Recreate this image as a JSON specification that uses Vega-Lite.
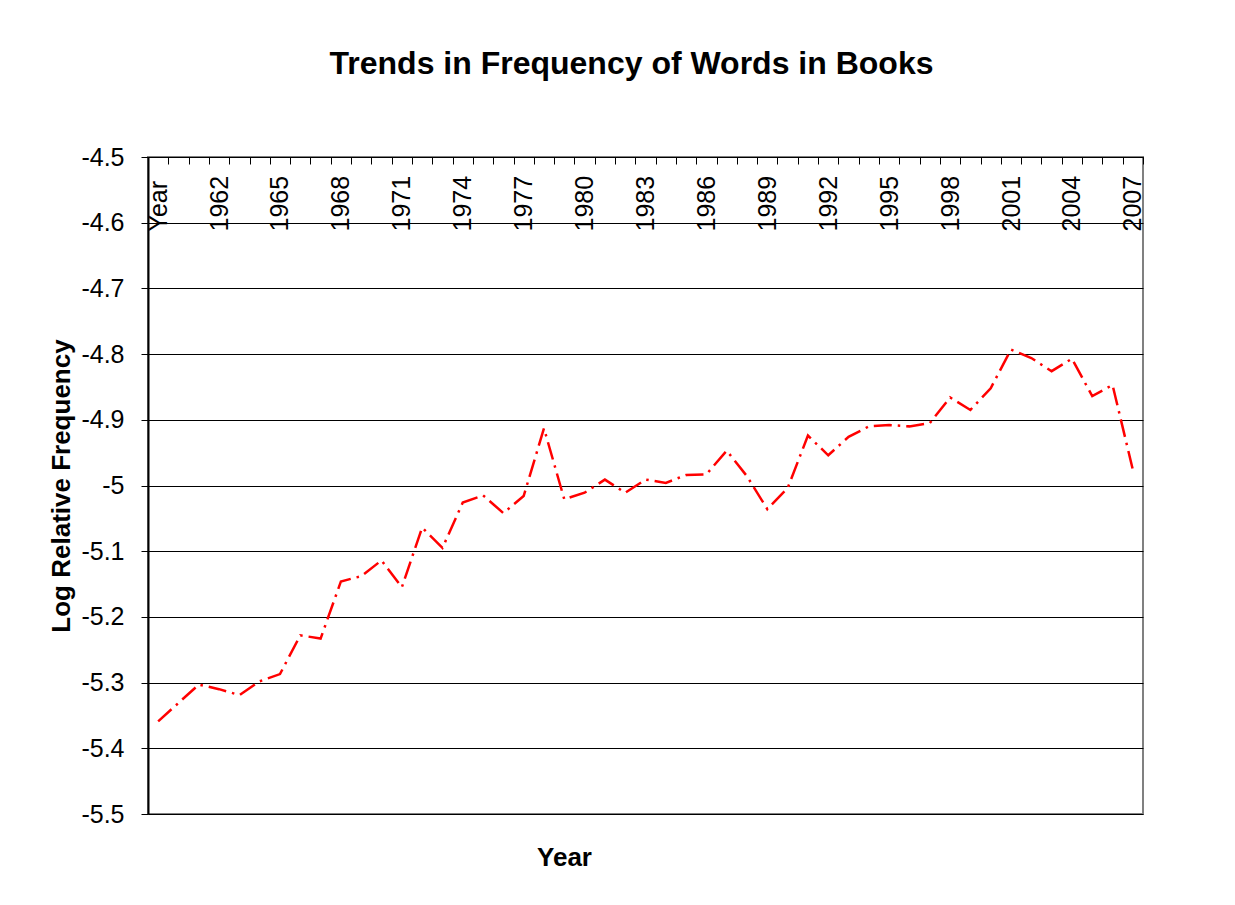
{
  "$schema": "https://vega.github.io/schema/vega-lite/v6.json",
  "width": 995,
  "height": 657,
  "autosize": {"type": "none"},
  "padding": {"left": 148, "top": 157, "right": 92, "bottom": 91},
  "background": "white",
  "title": {
    "text": "Trends in Frequency of Words in Books",
    "font": "Liberation Sans",
    "fontSize": 32,
    "fontWeight": "bold",
    "color": "black",
    "anchor": "middle",
    "baseline": "alphabetic",
    "dx": -14,
    "offset": 39
  },
  "data": {
    "values": [
      {"year": "Year", "freq": -5.359},
      {"year": "1960", "freq": -5.331},
      {"year": "1961", "freq": -5.303},
      {"year": "1962", "freq": -5.310},
      {"year": "1963", "freq": -5.319},
      {"year": "1964", "freq": -5.298},
      {"year": "1965", "freq": -5.287},
      {"year": "1966", "freq": -5.228},
      {"year": "1967", "freq": -5.233},
      {"year": "1968", "freq": -5.146},
      {"year": "1969", "freq": -5.138},
      {"year": "1970", "freq": -5.114},
      {"year": "1971", "freq": -5.155},
      {"year": "1972", "freq": -5.064},
      {"year": "1973", "freq": -5.095},
      {"year": "1974", "freq": -5.026},
      {"year": "1975", "freq": -5.015},
      {"year": "1976", "freq": -5.042},
      {"year": "1977", "freq": -5.016},
      {"year": "1978", "freq": -4.913},
      {"year": "1979", "freq": -5.021},
      {"year": "1980", "freq": -5.011},
      {"year": "1981", "freq": -4.991},
      {"year": "1982", "freq": -5.011},
      {"year": "1983", "freq": -4.991},
      {"year": "1984", "freq": -4.996},
      {"year": "1985", "freq": -4.984},
      {"year": "1986", "freq": -4.983},
      {"year": "1987", "freq": -4.947},
      {"year": "1988", "freq": -4.986},
      {"year": "1989", "freq": -5.036},
      {"year": "1990", "freq": -5.004},
      {"year": "1991", "freq": -4.924},
      {"year": "1992", "freq": -4.954},
      {"year": "1993", "freq": -4.926},
      {"year": "1994", "freq": -4.910},
      {"year": "1995", "freq": -4.908},
      {"year": "1996", "freq": -4.910},
      {"year": "1997", "freq": -4.905},
      {"year": "1998", "freq": -4.866},
      {"year": "1999", "freq": -4.885},
      {"year": "2000", "freq": -4.852},
      {"year": "2001", "freq": -4.793},
      {"year": "2002", "freq": -4.806},
      {"year": "2003", "freq": -4.826},
      {"year": "2004", "freq": -4.807},
      {"year": "2005", "freq": -4.864},
      {"year": "2006", "freq": -4.847},
      {"year": "2007", "freq": -4.976}
    ]
  },
  "mark": {
    "type": "line",
    "color": "#FF0000",
    "strokeWidth": 2.5,
    "strokeDash": [18, 6, 2.5, 6],
    "strokeCap": "butt"
  },
  "encoding": {
    "x": {
      "field": "year",
      "type": "ordinal",
      "sort": null,
      "bandPosition": 0.5,
      "scale": {"type": "band", "paddingInner": 0, "paddingOuter": 0},
      "axis": {
        "orient": "bottom",
        "offset": -657,
        "tickBand": "extent",
        "tickSize": 7,
        "tickColor": "black",
        "domainColor": "black",
        "labelAngle": -90,
        "labelAlign": "left",
        "labelBaseline": "middle",
        "labelPadding": 67,
        "labelOverlap": false,
        "labelExpr": "datum.value == 'Year' || (toNumber(datum.value) - 1959) % 3 == 0 ? datum.label : ''",
        "labelFont": "Liberation Sans",
        "labelFontSize": 25,
        "labelColor": "black",
        "title": "Year",
        "titleX": 416,
        "titleY": 700,
        "titleBaseline": "middle",
        "titleFont": "Liberation Sans",
        "titleFontSize": 26,
        "titleFontWeight": "bold",
        "titleColor": "black"
      }
    },
    "y": {
      "field": "freq",
      "type": "quantitative",
      "scale": {"domain": [-5.5, -4.5], "nice": false, "zero": false},
      "axis": {
        "values": [-5.5, -5.4, -5.3, -5.2, -5.1, -5, -4.9, -4.8, -4.7, -4.6, -4.5],
        "labelExpr": "'' + datum.value",
        "grid": true,
        "gridColor": "black",
        "gridWidth": 1,
        "tickSize": 7,
        "tickColor": "black",
        "domainColor": "black",
        "domainWidth": 2,
        "labelPadding": 17,
        "labelFont": "Liberation Sans",
        "labelFontSize": 25,
        "labelColor": "black",
        "title": "Log Relative Frequency",
        "titlePadding": 6,
        "titleFont": "Liberation Sans",
        "titleFontSize": 26,
        "titleFontWeight": "bold",
        "titleColor": "black"
      }
    }
  },
  "config": {
    "view": {"stroke": "#808080", "strokeWidth": 2}
  }
}
